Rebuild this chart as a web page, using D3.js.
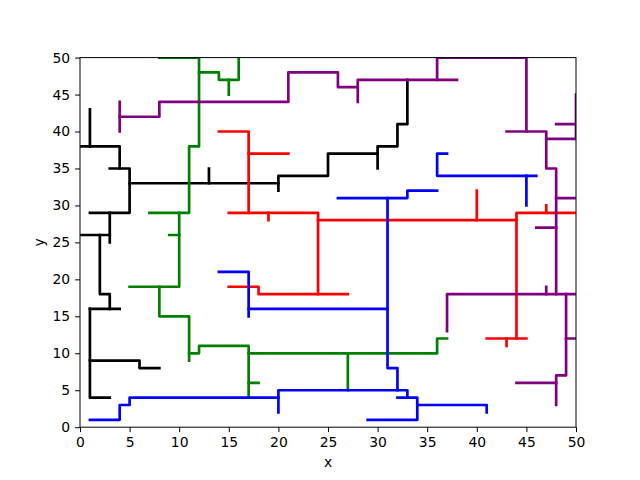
<!DOCTYPE html>
<html>
<head>
<meta charset="utf-8">
<script src="https://cdn.jsdelivr.net/npm/d3@7"></script>
<style>
body{margin:0;background:#fff;}
svg{display:block;font-family:"DejaVu Sans",sans-serif;}
</style>
</head>
<body>
<svg id="chart" width="640" height="480"></svg>
<script>
const xTicks = [0,5,10,15,20,25,30,35,40,45,50];
const yTicks = [0,5,10,15,20,25,30,35,40,45,50];

const blackPaths = [
  [[1,43],[1,38]],
  [[0,38],[4,38],[4,35]],
  [[3,35],[5,35],[5,29],[1,29]],
  [[5,33],[20,33]],
  [[13,33],[13,35]],
  [[20,32],[20,34],[25,34],[25,37],[30,37]],
  [[30,35],[30,38],[32,38],[32,41],[33,41],[33,47]],
  [[3,29],[3,25]],
  [[0,26],[3,26]],
  [[2,26],[2,18],[3,18],[3,16]],
  [[1,16],[4,16]],
  [[1,16],[1,4],[3,4]],
  [[1,9],[6,9],[6,8],[8,8]]
];
const greenPaths = [
  [[8,50],[12,50],[12,38],[11,38],[11,29],[7,29]],
  [[12,48],[14,48],[14,47],[16,47],[16,50]],
  [[15,47],[15,45]],
  [[10,29],[10,19],[5,19]],
  [[9,26],[10,26]],
  [[8,19],[8,15],[11,15],[11,9]],
  [[11,10],[12,10],[12,11],[17,11],[17,4]],
  [[17,10],[36,10],[36,12],[37,12]],
  [[17,6],[18,6]],
  [[27,10],[27,5]]
];
const redPaths = [
  [[14,40],[17,40],[17,29]],
  [[17,37],[21,37]],
  [[15,29],[24,29],[24,18]],
  [[19,29],[19,28]],
  [[24,28],[44,28]],
  [[40,28],[40,32]],
  [[50,29],[44,29],[44,12]],
  [[47,29],[47,30]],
  [[41,12],[45,12]],
  [[43,12],[43,11]],
  [[15,19],[18,19],[18,18],[27,18]]
];
const purplePaths = [
  [[4,44],[4,40]],
  [[4,42],[8,42],[8,44],[21,44],[21,48],[26,48],[26,46],[28,46]],
  [[28,44],[28,47],[38,47]],
  [[36,47],[36,50],[45,50],[45,40]],
  [[43,40],[47,40],[47,35],[48,35],[48,18]],
  [[47,39],[50,39]],
  [[50,45],[50,39]],
  [[48,41],[50,41]],
  [[48,31],[50,31]],
  [[46,27],[48,27]],
  [[37,13],[37,18],[50,18]],
  [[47,18],[47,19]],
  [[49,18],[49,7],[48,7],[48,3]],
  [[49,12],[50,12]],
  [[44,6],[48,6]]
];
const bluePaths = [
  [[14,21],[17,21],[17,15]],
  [[17,16],[31,16]],
  [[26,31],[33,31],[33,32],[36,32]],
  [[37,37],[36,37],[36,34],[46,34]],
  [[45,34],[45,30]],
  [[31,31],[31,8],[32,8],[32,5]],
  [[20,2],[20,5],[33,5],[33,4]],
  [[32,4],[34,4],[34,1],[29,1]],
  [[34,3],[41,3],[41,2]],
  [[1,1],[4,1],[4,3],[5,3],[5,4],[20,4]]
];

const groups = [
  {color:"black", paths:blackPaths},
  {color:"#008000", paths:greenPaths},
  {color:"#ff0000", paths:redPaths},
  {color:"#800080", paths:purplePaths},
  {color:"#0000ff", paths:bluePaths}
];

const svg = d3.select("#chart");
const L=80, R=576, T=57.6, B=427.2;
const x = d3.scaleLinear().domain([0,50]).range([L,R]);
const y = d3.scaleLinear().domain([0,50]).range([B,T]);

const defs = svg.append("defs");
defs.append("clipPath").attr("id","clip").append("rect")
  .attr("x",L).attr("y",T).attr("width",R-L).attr("height",B-T);

const plot = svg.append("g").attr("clip-path","url(#clip)");
const line = d3.line().x(d=>x(d[0])).y(d=>y(d[1]));
groups.forEach(g=>{
  plot.selectAll(null).data(g.paths).enter().append("path")
    .attr("d", line)
    .attr("fill","none")
    .attr("stroke", g.color)
    .attr("stroke-width", 2.7)
    .attr("stroke-linecap","square")
    .attr("stroke-linejoin","round");
});

// frame
svg.append("rect").attr("x",L).attr("y",T).attr("width",R-L).attr("height",B-T)
  .attr("fill","none").attr("stroke","#000").attr("stroke-width",1);

const xAxis = svg.append("g").attr("transform",`translate(0,${B})`)
  .call(d3.axisBottom(x).tickValues(xTicks).tickFormat(d3.format("d")).tickSize(4.9).tickPadding(4.9));
const yAxis = svg.append("g").attr("transform",`translate(${L},0)`)
  .call(d3.axisLeft(y).tickValues(yTicks).tickFormat(d3.format("d")).tickSize(4.9).tickPadding(4.9));
[xAxis,yAxis].forEach(a=>{
  a.select(".domain").remove();
  a.selectAll(".tick line").attr("stroke","#000").attr("stroke-width",1);
  a.selectAll(".tick text").attr("fill","#000").style("font-size","13.9px").style("font-family","DejaVu Sans");
});

svg.append("text").attr("x",(L+R)/2).attr("y",467).attr("text-anchor","middle")
  .style("font-size","13.9px").text("x");
svg.append("text").attr("transform",`translate(44,${(T+B)/2}) rotate(-90)`).attr("text-anchor","middle")
  .style("font-size","13.9px").text("y");
</script>
</body>
</html>
